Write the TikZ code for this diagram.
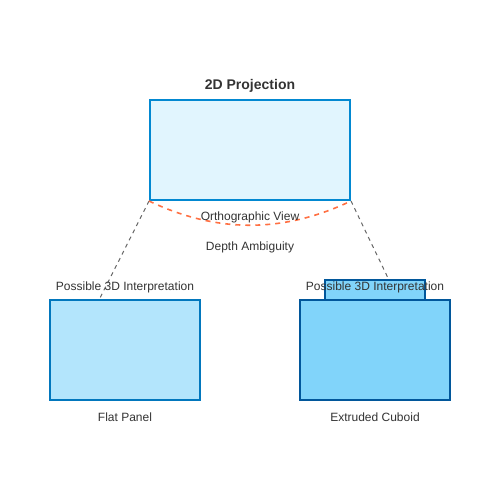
\documentclass[tikz,border=0pt]{standalone}
\usepackage{fontspec}
\setmainfont{Liberation Sans}
\usetikzlibrary{positioning}
\definecolor{PaleBlue}{HTML}{E1F5FE}
\definecolor{LightBlue}{HTML}{B3E5FC}
\definecolor{SkyBlue}{HTML}{81D4FA}
\definecolor{EdgeBlue}{HTML}{0288D1}
\definecolor{MidBlue}{HTML}{0277BD}
\definecolor{DeepBlue}{HTML}{01579B}
\definecolor{DarkText}{HTML}{333333}
\definecolor{NiceOrange}{HTML}{FF7043}

\begin{document}
\begin{tikzpicture}[x=1pt,y=-1pt,
    panel/.style={draw, line width=2pt, minimum width=150pt, minimum height=100pt, inner sep=0pt},
    caption/.style={text=DarkText, font=\fontsize{12}{14}\selectfont},
    guide/.style={draw=black!60, dash pattern=on 4pt off 4pt, line width=1pt}]
    \useasboundingbox (0,0) rectangle (500,500);

    % 2D view
    \node[panel, fill=PaleBlue, draw=EdgeBlue, minimum width=200pt] (proj) at (250,150) {};
    \node[caption, font=\bfseries\fontsize{14}{16}\selectfont] (title) at (250,86) {2D Projection};

    % interpretations
    \node[panel, fill=LightBlue, draw=MidBlue] (flat) at (125,350) {};
    \node[panel, fill=SkyBlue, draw=DeepBlue, minimum width=100pt, minimum height=20pt] (cap) at (375,290) {};
    \node[panel, fill=SkyBlue, draw=DeepBlue] (cuboid) at (375,350) {};

    \coordinate (leftend) at (100,298);
    \coordinate (rightend) at (388,278);
    \draw[guide] (proj.south west) -- (leftend);
    \draw[guide] (proj.south east) -- (rightend);
    \draw[NiceOrange, dash pattern=on 5pt off 5pt, line width=1.6pt] (proj.south west) .. controls (216.7,233.3) and (283.3,233.3) .. (proj.south east);

    \node[caption] (ortho) at (250,217) {Orthographic View};
    \node[caption] (depth) at (250,247) {Depth Ambiguity};
    \node[caption] (flattop) at (125,287) {Possible 3D Interpretation};
    \node[caption] (cubtop) at (375,287) {Possible 3D Interpretation};
    \node[caption] (flatname) at (125,417) {Flat Panel};
    \node[caption] (cubname) at (375,417) {Extruded Cuboid};
  \end{tikzpicture}
\end{document}
